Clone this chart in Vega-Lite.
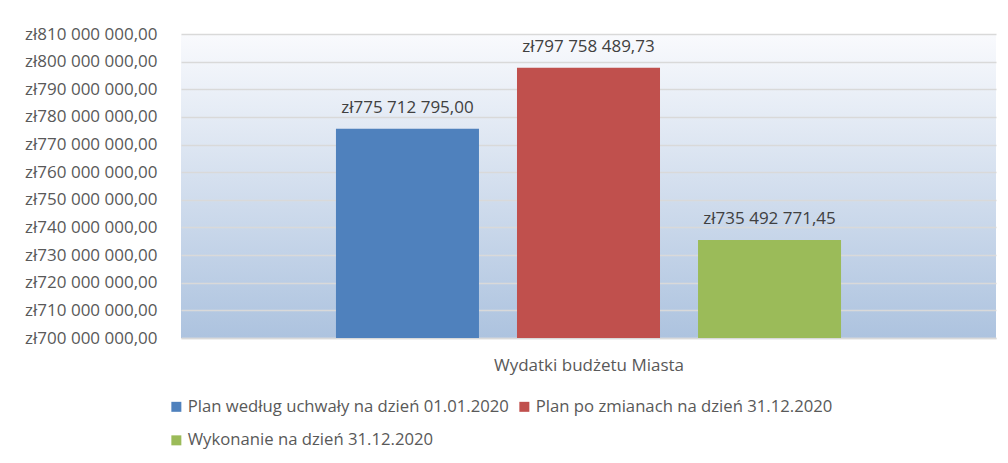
{
  "$schema": "https://vega.github.io/schema/vega-lite/v6.json",
  "width": 815,
  "height": 304,
  "autosize": {"type": "none"},
  "padding": {"left": 181, "top": 34, "right": 12, "bottom": 125},
  "background": "white",
  "data": {
    "values": [
      {"series": "Plan według uchwały na dzień 01.01.2020", "value": 775712795.00},
      {"series": "Plan po zmianach na dzień 31.12.2020", "value": 797758489.73},
      {"series": "Wykonanie na dzień 31.12.2020", "value": 735492771.45}
    ]
  },
  "encoding": {
    "x": {
      "field": "series",
      "type": "nominal",
      "sort": null,
      "scale": {
        "domain": ["Plan według uchwały na dzień 01.01.2020", "Plan po zmianach na dzień 31.12.2020", "Wykonanie na dzień 31.12.2020"],
        "paddingInner": 0.21,
        "paddingOuter": 0.856
      },
      "axis": {
        "labels": false,
        "ticks": false,
        "domain": true,
        "domainColor": "#d9d9d9",
        "domainWidth": 1.5,
        "title": "Wydatki budżetu Miasta",
        "titleFont": "Open Sans",
        "titleFontSize": 17,
        "titleFontWeight": "normal",
        "titleColor": "#595959",
        "titlePadding": 19
      }
    },
    "y": {
      "field": "value",
      "type": "quantitative",
      "scale": {"domain": [700000000, 810000000], "zero": false, "nice": false},
      "axis": {
        "values": [700000000, 710000000, 720000000, 730000000, 740000000, 750000000, 760000000, 770000000, 780000000, 790000000, 800000000, 810000000],
        "format": "$,.2f",
        "title": null,
        "ticks": false,
        "domain": false,
        "grid": true,
        "gridColor": "#d9d9d9",
        "gridWidth": 1.5,
        "labelFont": "Open Sans",
        "labelFontSize": 17,
        "labelColor": "#595959",
        "labelPadding": 24
      }
    }
  },
  "layer": [
    {
      "mark": {"type": "bar", "clip": true},
      "encoding": {
        "color": {
          "field": "series",
          "type": "nominal",
          "scale": {
            "domain": ["Plan według uchwały na dzień 01.01.2020", "Plan po zmianach na dzień 31.12.2020", "Wykonanie na dzień 31.12.2020"],
            "range": ["#4f81bd", "#c0504d", "#9bbb59"]
          },
          "legend": {
            "title": null,
            "orient": "none",
            "legendX": -13,
            "legendY": 364,
            "direction": "horizontal",
            "columns": 2,
            "columnPadding": 7,
            "rowPadding": 16,
            "symbolType": "square",
            "symbolSize": 100,
            "symbolStrokeWidth": 0,
            "labelOffset": 3,
            "labelFont": "Open Sans",
            "labelFontSize": 16.7,
            "labelColor": "#595959",
            "labelLimit": 0
          }
        }
      }
    },
    {
      "mark": {"type": "text", "baseline": "alphabetic", "dy": -16, "font": "Open Sans", "fontSize": 17, "color": "#404040"},
      "encoding": {
        "text": {"field": "value", "type": "quantitative", "format": "$,.2f"}
      }
    }
  ],
  "config": {
    "locale": {
      "number": {"decimal": ",", "thousands": " ", "grouping": [3], "currency": ["zł", ""]}
    },
    "view": {
      "stroke": null,
      "fill": {
        "gradient": "linear",
        "x1": 0, "y1": 0, "x2": 0, "y2": 1,
        "stops": [
          {"offset": 0, "color": "#f9fafd"},
          {"offset": 1, "color": "#adc3df"}
        ]
      }
    }
  }
}
